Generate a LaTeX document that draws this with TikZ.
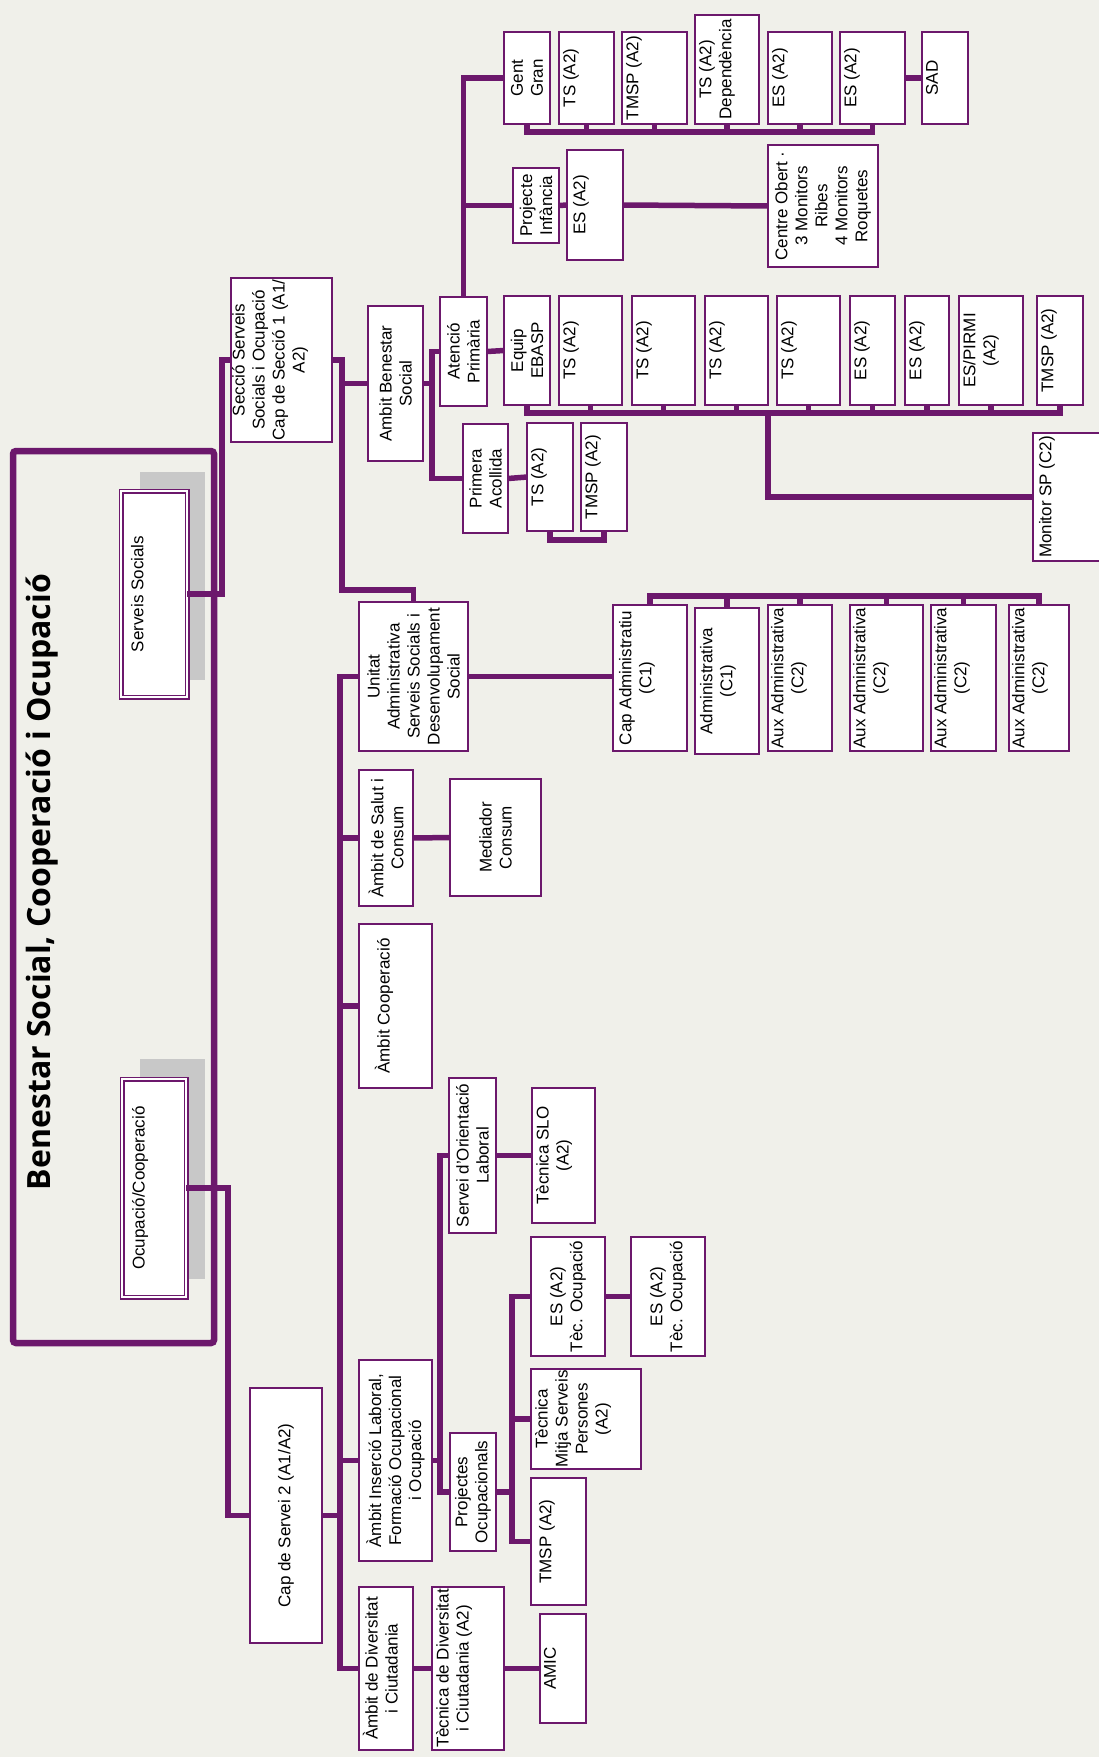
\documentclass[tikz,border=0pt]{standalone}
\usepackage{fontspec}
\setmainfont{Liberation Sans}
\newfontfamily\titlefont{Open Sans}
\usepackage{tikz}
\definecolor{orgpurple}{RGB}{108,24,108}
\definecolor{bgpaper}{RGB}{240,240,234}
\definecolor{shadowgray}{RGB}{200,200,200}
\newcommand{\boxfont}{\fontsize{17}{20}\selectfont}
\newcommand{\bt}[4][4]{\begin{minipage}[c][#3pt][t]{#2pt}\centering\vspace*{#1pt}#4\end{minipage}}
\newcommand{\bc}[3]{\begin{minipage}[c][#2pt][c]{#1pt}\centering #3\end{minipage}}

\begin{document}
\begin{tikzpicture}[x=1pt, y=-1pt,
  box/.style={draw=orgpurple, line width=2.5pt, fill=white, rotate=90,
    inner sep=0pt, outer sep=0pt, font=\boxfont},
  unitbox/.style={box, line width=1.8pt, double=white, double distance=1.4pt},
  link/.style={draw=orgpurple, line width=5.5pt},
  frame/.style={draw=orgpurple, line width=6.5pt, rounded corners=3pt},
  title/.style={rotate=90, inner sep=0pt,
    font=\titlefont\bfseries\fontsize{32}{38}\selectfont}]
  \clip (0,0) rectangle (1099,1757);
  \fill[bgpaper] (0,0) rectangle (1099,1757);

  \draw[frame] (13,451) rectangle (214,1343);
  \node[title] (title) at (42,882) {Benestar Social, Cooperació i Ocupació};
  \fill[shadowgray] (140,472) rectangle (205,680);
  \fill[shadowgray] (140,1059) rectangle (205,1279);
  \node[unitbox] (servsoc) at (154,594) {\bt[10]{206}{66}{Serveis Socials}};
  \node[unitbox] (ocup) at (154,1188) {\bt[10]{218}{64}{Ocupació/Cooperació}};

  \node[box] (seccio) at (281.5,360) {\bt[1]{164}{101}{Secció Serveis\\Socials i Ocupació\\Cap de Secció 1 (A1/\\A2)}};
  \node[box] (ambit) at (395.5,383.5) {\bc{155}{55}{Ambit Benestar\\Social}};
  \node[box] (atencio) at (463.5,351.5) {\bc{109}{47}{Atenció\\Primària}};
  \node[box] (primera) at (485.5,478.5) {\bc{109}{45}{Primera\\Acollida}};
  \node[box] (tspa) at (550,477) {\bt{108}{46}{TS (A2)}};
  \node[box] (tmsppa) at (604,477) {\bt{108}{46}{TMSP (A2)}};

  \node[box] (gentgran) at (527,78) {\bc{92}{46}{Gent\\Gran}};
  \node[box] (tsgg) at (586.5,78) {\bt{92}{55}{TS (A2)}};
  \node[box] (tmspgg) at (654.5,78) {\bt{92}{65}{TMSP (A2)}};
  \node[box] (tsdep) at (727,69.5) {\bt{109}{64}{TS (A2)\\Dependència}};
  \node[box] (esgg1) at (800,78) {\bt{92}{64}{ES (A2)}};
  \node[box] (esgg2) at (872.5,78) {\bt{92}{65}{ES (A2)}};
  \node[box] (sad) at (945,78) {\bt{92}{46}{SAD}};

  \node[box] (projinf) at (536,205.5) {\bc{75}{46}{Projecte\\Infància}};
  \node[box] (esinf) at (595,205) {\bt[6]{110}{56}{ES (A2)}};
  \node[box] (centre) at (823,206) {\bc{122}{110}{Centre Obert ·\\3 Monitors\\Ribes\\4 Monitors\\Roquetes}};

  \node[box] (ebasp) at (527,350.5) {\bc{109}{46}{Equip\\EBASP}};
  \node[box] (tse1) at (590.5,350.5) {\bt{109}{63}{TS (A2)}};
  \node[box] (tse2) at (663.5,350.5) {\bt{109}{63}{TS (A2)}};
  \node[box] (tse3) at (736.5,350.5) {\bt{109}{63}{TS (A2)}};
  \node[box] (tse4) at (808.5,350.5) {\bt{109}{63}{TS (A2)}};
  \node[box] (ese1) at (872.5,350.5) {\bt{109}{45}{ES (A2)}};
  \node[box] (ese2) at (927,350.5) {\bt{109}{44}{ES (A2)}};
  \node[box] (pirmi) at (991,350.5) {\bt{109}{64}{ES/PIRMI\\(A2)}};
  \node[box] (tmspe) at (1060,350.5) {\bt{109}{46}{TMSP (A2)}};
  \node[box] (monitor) at (1074,497) {\bt[6]{128}{82}{Monitor SP (C2)}};

  \node[box] (unitat) at (413.5,676.5) {\bc{149}{109}{Unitat\\Administrativa\\Serveis Socials i\\Desenvolupament\\Social}};
  \node[box] (capadm) at (650,678) {\bt[6]{146}{74}{Cap Administratiu\\(C1)}};
  \node[box] (adm) at (727,681) {\bt[5]{146}{64}{Administrativa\\(C1)}};
  \node[box] (aux1) at (800,678) {\bt[3]{146}{64}{Aux Administrativa\\(C2)}};
  \node[box] (aux2) at (886.5,678) {\bt[3]{146}{73}{Aux Administrativa\\(C2)}};
  \node[box] (aux3) at (963.5,678) {\bt[3]{146}{65}{Aux Administrativa\\(C2)}};
  \node[box] (aux4) at (1039,678) {\bt[3]{146}{60}{Aux Administrativa\\(C2)}};

  \node[box] (salut) at (386,838) {\bc{136}{54}{Àmbit de Salut i\\Consum}};
  \node[box] (mediador) at (495.5,837.5) {\bc{117}{91}{Mediador\\Consum}};
  \node[box] (coop) at (395.5,1006) {\bt[16]{164}{73}{Àmbit Cooperació}};
  \node[box] (orient) at (472.5,1155.5) {\bc{155}{47}{Servei d'Orientació\\Laboral}};
  \node[box] (slo) at (563.5,1155.5) {\bt{135}{63}{Tècnica SLO\\(A2)}};
  \node[box] (insercio) at (395.5,1460.5) {\bc{201}{73}{Àmbit Inserció Laboral,\\Formació Ocupacional\\i Ocupació}};
  \node[box] (projoc) at (473,1492) {\bc{118}{46}{Projectes\\Ocupacionals}};
  \node[box] (esoc1) at (568,1296.5) {\bc{119}{74}{ES (A2)\\Tèc. Ocupació}};
  \node[box] (esoc2) at (668,1296.5) {\bc{119}{74}{ES (A2)\\Tèc. Ocupació}};
  \node[box] (mitja) at (586,1419) {\bt{100}{110}{Tècnica\\Mitja Serveis\\Persones\\(A2)}};
  \node[box] (tmspoc) at (558.5,1541.5) {\bt[8]{127}{55}{TMSP (A2)}};
  \node[box] (cap2) at (286,1515.5) {\bc{255}{72}{Cap de Servei 2 (A1/A2)}};
  \node[box] (divers) at (386,1668.5) {\bt{163}{54}{Àmbit de Diversitat\\i Ciutadania}};
  \node[box] (tecdiv) at (468,1668.5) {\bt{163}{72}{Tècnica de Diversitat\\i Ciutadania (A2)}};
  \node[box] (amic) at (563,1668.5) {\bt{109}{46}{AMIC}};

  \draw[link] (servsoc.south) -- ++(35,0) |- (seccio.north);
  \draw[link] (seccio.south) -- ++(10,0) coordinate (sec-r) |- (ambit.north);
  \draw[link] (sec-r) -- ++(0,230) -| (unitat.east);
  \draw[link] (ambit.south) -- ++(9,0) coordinate (amb-r);
  \draw[link] (atencio.north) -| (amb-r) |- (primera.north);
  \draw[link] (primera.south) -- (tspa.north);
  \draw[link] (tspa.west) -- ++(0,9) -| (tmsppa.west);
  \draw[link] (atencio.south) -- (ebasp.north);
  \draw[link] (atencio.east) |- (gentgran.north);
  \draw[link] (atencio.east |- projinf.north) -- (projinf.north);
  \draw[link] (projinf.south) -- (esinf.north);
  \draw[link] (esinf.south) -- (centre.north);
  \draw[link] (gentgran.west) -- ++(0,8) coordinate (gbus) -| (esgg2.west);
  \foreach \n in {tsgg,tmspgg,tsdep,esgg1}
    \draw[link] (\n.west) -- (\n.west |- gbus);
  \draw[link] (esgg2.south) -- (sad.north);
  \draw[link] (ebasp.west) -- ++(0,8) coordinate (ebus) -| (tmspe.west);
  \foreach \n in {tse1,tse2,tse3,tse4,ese1,ese2,pirmi}
    \draw[link] (\n.west) -- (\n.west |- ebus);
  \coordinate (mdrop) at (768,413);
  \draw[link] (mdrop) |- (monitor.north);

  \draw[link] (ocup.south) -- ++(42,0) |- (cap2.north);
  \draw[link] (cap2.south) -- ++(18,0) coordinate (trunk);
  \draw[link] (unitat.north) -| (trunk) |- (divers.north);
  \foreach \n in {salut,coop,insercio}
    \draw[link] (trunk |- \n.north) -- (\n.north);
  \draw[link] (unitat.south) -- (unitat.south -| capadm.north);
  \draw[link] (capadm.east) -- ++(0,-9) coordinate (abus) -| (aux4.east);
  \foreach \n in {adm,aux1,aux2,aux3}
    \draw[link] (\n.east) -- (\n.east |- abus);
  \draw[link] (salut.south) -- (mediador.north);
  \draw[link] (insercio.south) -- ++(8,0) coordinate (ins-r);
  \draw[link] (orient.north) -| (ins-r) |- (projoc.north);
  \draw[link] (orient.south) -- (slo.north);
  \draw[link] (projoc.south) -- ++(16,0) coordinate (poc-r);
  \draw[link] (esoc1.north) -| (poc-r) |- (tmspoc.north);
  \draw[link] (poc-r |- mitja.north) -- (mitja.north);
  \draw[link] (esoc1.south) -- (esoc2.north);
  \draw[link] (divers.south) -- (tecdiv.north);
  \draw[link] (tecdiv.south) -- (amic.north);
\end{tikzpicture}
\end{document}
